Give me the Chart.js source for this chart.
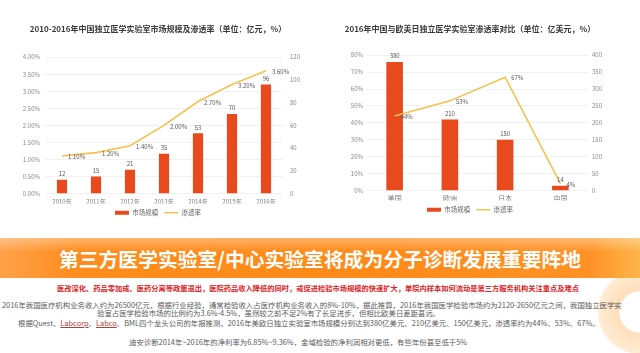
<!DOCTYPE html>
<html><head><meta charset="utf-8">
<script src="https://cdn.jsdelivr.net/npm/chart.js@4.4.0/dist/chart.umd.min.js"></script>
<style>
html,body{margin:0;padding:0;background:#fff;}
body{width:640px;height:353px;position:relative;overflow:hidden;font-family:"Noto Sans CJK SC","Noto Sans",sans-serif;}
#c1{position:absolute;left:0;top:0;}
#c2{position:absolute;left:310px;top:0;}
#ring{position:absolute;left:598px;top:270px;width:84px;height:84px;border-radius:50%;
 background:radial-gradient(circle at 50% 50%, #fff 0, #fff 34%, rgba(255,196,130,0.55) 36%, rgba(255,214,160,0.45) 70%, rgba(255,230,200,0) 72%);}
#banner{position:absolute;left:0;top:238px;width:640px;height:40px;
 background:linear-gradient(to bottom, rgba(255,255,255,0.35) 0%, rgba(255,255,255,0) 35%),
 linear-gradient(to right, #ffa14a 0%, #ff8c1c 12%, #ff8a18 60%, #ff9226 92%, #ffb54a 100%);}
#banner div{position:absolute;left:0;width:640px;top:0;height:40px;line-height:41px;text-align:center;color:#fff;font-weight:bold;font-size:19.8px;letter-spacing:0;}
.t{position:absolute;white-space:nowrap;color:#5a5a5a;font-size:7.4px;line-height:9px;}
.red{color:#e0201c;font-weight:bold;font-size:7.25px;}
.u{text-decoration:underline;color:#b0403a;}
</style></head>
<body>
<div id="ring"></div>
<canvas id="c1" width="316" height="226"></canvas>
<canvas id="c2" width="320" height="223"></canvas>
<div id="banner"><div>第三方医学实验室/中心实验室将成为分子诊断发展重要阵地</div></div>
<div class="t red" style="left:0;width:636px;text-align:center;top:284px;">医改深化、药品零加成、医药分离等政策退出，医院药品收入降低的同时，或促进检验市场规模的快速扩大，单院内样本如何流动是第三方服务机构关注重点及难点</div>
<div class="t" style="left:2px;top:300px;">2016年我国医疗机构业务收入约为26500亿元，根据行业经验，通常检验收入占医疗机构业务收入的8%-10%，据此推算，2016年我国医学检验市场约为2120-2650亿元之间，我国独立医学实</div>
<div class="t" style="left:97px;top:308px;">验室占医学检验市场的比例约为3.6%-4.5%，虽然较之前不足2%有了长足进步，但相比欧美日差距甚远。</div>
<div class="t" style="left:18px;top:318px;">根据Quest、<span class="u">Labcorp</span>、<span class="u">Labco</span>、BML四个龙头公司的年报推测，2016年美欧日独立实验室市场规模分别达到380亿美元、210亿美元、150亿美元，渗透率约为44%、53%、67%。</div>
<div class="t" style="left:129px;top:337px;">迪安诊断2014年~2016年的净利率为6.85%~9.36%，金域检验的净利润相对更低，有些年份甚至低于5%</div>
<script>
// ---- Chart 1 data ----
const years = ['2010年','2011年','2012年','2013年','2014年','2015年','2016年'];
const marketSize1 = [12, 15, 21, 35, 53, 70, 96];
const penetration1 = [1.1, 1.2, 1.4, 2.0, 2.7, 3.2, 3.6];
const leftTicks1 = ['0.00%','0.50%','1.00%','1.50%','2.00%','2.50%','3.00%','3.50%','4.00%'];
const rightTicks1 = ['0','20','40','60','80','100','120'];
// ---- Chart 2 data ----
const regions = ['美国','欧洲','日本','中国'];
const marketSize2 = [380, 210, 150, 14];
const penetration2 = [44, 53, 67, 4];
const leftTicks2 = ['0%','10%','20%','30%','40%','50%','60%','70%','80%'];
const rightTicks2 = ['0','50','100','150','200','250','300','350','400'];

const FONT = "'Noto Sans CJK SC','Noto Sans',sans-serif";
const BAR = '#e8491d';
const LINE = '#f8c04c';

const labelPlugin = {
  id: 'vlabels',
  afterDatasetsDraw(chart, args, opts) {
    const ctx = chart.ctx;
    ctx.save();
    ctx.font = '6px ' + FONT;
    ctx.fillStyle = '#595959';
    chart.data.datasets.forEach((ds, di) => {
      const meta = chart.getDatasetMeta(di);
      meta.data.forEach((el, i) => {
        const txt = ds.valueLabels[i];
        if (ds.type === 'line') {
          ctx.textAlign = 'left'; ctx.textBaseline = 'middle';
          ctx.fillText(txt, el.x + opts.lineDx, el.y + 1);
        } else {
          ctx.textAlign = 'center'; ctx.textBaseline = 'bottom';
          ctx.fillText(txt, el.x, el.y - 3);
        }
      });
    });
    ctx.restore();
  }
};

function makeChart(id, cats, bars, line, barLabels, lineLabels, lt, rt, cfg) {
  return new Chart(document.getElementById(id), {
    type: 'bar',
    data: {
      labels: cats,
      datasets: [
        { type: 'bar', label: '市场规模', data: bars, yAxisID: 'y1', backgroundColor: BAR,
          categoryPercentage: 0.6, barPercentage: 0.5, order: 1, pointStyle: 'rect', valueLabels: barLabels },
        { type: 'line', label: '渗透率', data: line, yAxisID: 'y', borderColor: LINE, backgroundColor: LINE,
          borderWidth: 1.6, pointRadius: 0, tension: 0, order: 0, pointStyle: 'line', valueLabels: lineLabels }
      ]
    },
    options: {
      responsive: false, animation: false, devicePixelRatio: 1,
      layout: { padding: 0 },
      plugins: {
        tooltip: { enabled: false },
        vlabels: { lineDx: cfg.lineDx },
        title: { display: true, text: cfg.title, color: '#3a3a3a',
          font: { family: FONT, size: 8, weight: 'bold' }, padding: { top: 24, bottom: cfg.titleBottom } },
        legend: { position: 'bottom',
          labels: { usePointStyle: true, pointStyleWidth: 14, boxHeight: 4, color: '#666',
            font: { family: FONT, size: 6.5 }, padding: 6,
            sort: (a, b) => a.datasetIndex - b.datasetIndex } }
      },
      scales: {
        x: { grid: { display: false, drawTicks: false }, border: { display: false },
          ticks: { color: '#7a7a7a', font: { family: FONT, size: cfg.xFont }, padding: cfg.xpad, maxRotation: 0 },
          afterFit: s => { s.height = 10; } },
        y: { position: 'left', min: 0, max: cfg.lmax, ticks: { stepSize: cfg.lstep, color: '#8a8a8a',
            font: { family: FONT, size: 6 }, padding: cfg.lpad, callback: (v, i) => lt[i] },
          grid: { color: '#eeeeee', drawTicks: false, lineWidth: 0.8 }, border: { display: false },
          afterFit: s => { s.width = cfg.lw; } },
        y1: { position: 'right', min: 0, max: cfg.rmax, ticks: { stepSize: cfg.rstep, color: '#8a8a8a',
            font: { family: FONT, size: 6 }, padding: cfg.rpad, callback: (v, i) => rt[i] },
          grid: { display: false, drawTicks: false }, border: { display: false },
          afterFit: s => { s.width = cfg.rw; } }
      }
    },
    plugins: [labelPlugin]
  });
}

makeChart('c1', years, marketSize1, penetration1,
  marketSize1.map(String), penetration1.map(v => v.toFixed(2) + '%'), leftTicks1, rightTicks1,
  { title: '2010-2016年中国独立医学实验室市场规模及渗透率（单位：亿元，%）', titleBottom: 23.6,
    lmax: 4, lstep: 0.5, rmax: 120, rstep: 20, lw: 45, rw: 33, lpad: 5, rpad: 7, xFont: 6, xpad: 5, lineDx: 6 });

makeChart('c2', regions, marketSize2, penetration2,
  marketSize2.map(String), penetration2.map(v => v + '%'), leftTicks2, rightTicks2,
  { title: '2016年中国与欧美日独立医学实验室渗透率对比（单位：亿美元，%）', titleBottom: 21.6,
    lmax: 80, lstep: 10, rmax: 400, rstep: 50, lw: 57, rw: 42, lpad: 4, rpad: 4, xFont: 7, xpad: 4, lineDx: 6 });
</script>
</body></html>
